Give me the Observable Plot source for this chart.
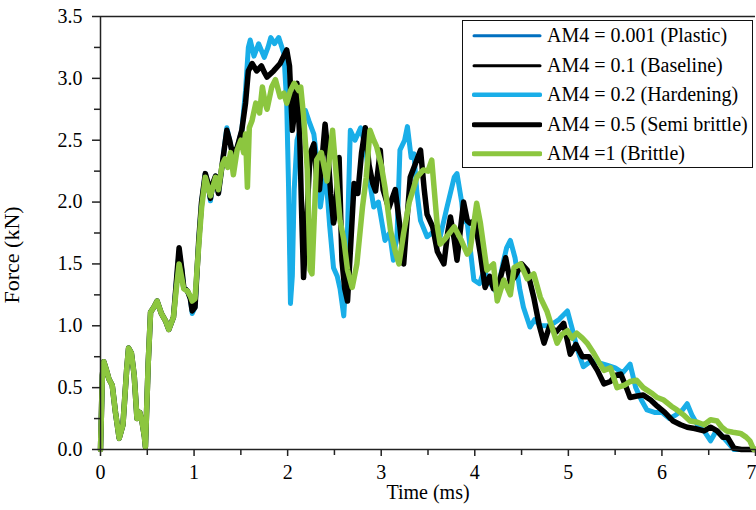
<!DOCTYPE html>
<html>
<head>
<meta charset="utf-8">
<script src="https://cdn.jsdelivr.net/npm/d3@7"></script>
<script src="https://cdn.jsdelivr.net/npm/@observablehq/plot@0.6"></script>
<style>
  html, body { margin: 0; padding: 0; background: #fff; overflow: hidden; }
  #wrap { position: relative; width: 756px; height: 510px; }
  #legend {
    position: absolute; left: 462px; top: 20px; width: 291px; height: 148px;
    box-sizing: border-box; border: 1.5px solid #111; background: #fff;
    font-family: "Liberation Serif", "Times New Roman", serif; font-size: 20px; color: #000;
  }
  .row { position: relative; height: 29.5px; display: flex; align-items: center; }
  .row svg { position: absolute; left: 9px; top: 0; }
  .row span { position: absolute; left: 84px; white-space: nowrap; }
</style>
</head>
<body>
<div id="wrap"></div>
<script>
// ---- tick values ----
const xTicks = [0, 1, 2, 3, 4, 5, 6, 7];
const xMinorTicks = [0.5, 1.5, 2.5, 3.5, 4.5, 5.5, 6.5];
const yTicks = [0, 0.5, 1.0, 1.5, 2.0, 2.5, 3.0, 3.5];
const yMinorTicks = [0.25, 0.75, 1.25, 1.75, 2.25, 2.75, 3.25];

// ---- series: [time (ms), force (kN)] ----
const seriesNames = ["AM4 = 0.001 (Plastic)", "AM4 = 0.1 (Baseline)", "AM4 = 0.2 (Hardening)", "AM4 = 0.5 (Semi brittle)", "AM4 =1 (Brittle)"];
const seriesColors = ["#0070c0", "#000000", "#19aee8", "#000000", "#8cc63f"];
const seriesWidths = [3.5, 3.5, 5, 5.5, 5.5];
const legendWidths = [3, 3, 4.5, 5, 5];

const plastic = [[0,0],[0.02,0.6],[0.035,0.71],[0.06,0.65],[0.09,0.57],[0.125,0.52],[0.16,0.3],[0.2,0.09],[0.24,0.2],[0.28,0.65],[0.3,0.82],[0.33,0.78],[0.36,0.6],[0.39,0.25],[0.42,0.3],[0.445,0.22],[0.47,0.1],[0.48,0.02],[0.51,0.7],[0.535,1.11],[0.57,1.15],[0.605,1.2],[0.65,1.1],[0.695,1.04],[0.73,0.97],[0.78,1.07],[0.81,1.35],[0.84,1.6],[0.87,1.45],[0.89,1.31],[0.93,1.28],[0.96,1.22],[0.98,1.1],[1.01,1.15],[1.05,1.69],[1.08,2.0],[1.12,2.23],[1.15,2.15],[1.175,2.01],[1.2,2.15],[1.23,2.21],[1.26,2.07],[1.3,2.3],[1.35,2.6],[1.38,2.5],[1.41,2.39],[1.46,2.44],[1.51,2.58],[1.55,2.9],[1.58,3.25],[1.6,3.31],[1.64,3.18],[1.69,3.28],[1.75,3.17],[1.79,3.25],[1.82,3.33],[1.86,3.28],[1.905,3.33],[1.96,3.2],[1.99,2.8],[2.01,2.12],[2.03,1.18],[2.05,1.4],[2.07,2.1],[2.1,2.5],[2.14,2.6],[2.19,2.74],[2.23,2.65],[2.28,2.55],[2.32,2.3],[2.35,1.96],[2.37,2.07],[2.41,2.2],[2.45,1.8],[2.49,1.47],[2.53,1.4],[2.56,1.3],[2.6,1.08],[2.63,1.5],[2.67,2.58],[2.72,2.5],[2.78,2.6],[2.83,2.45],[2.88,2.15],[2.92,1.96],[2.97,2.0],[3.04,1.69],[3.09,1.75],[3.13,1.53],[3.17,1.75],[3.2,2.42],[3.25,2.5],[3.28,2.61],[3.32,2.36],[3.35,2.39],[3.38,2.09],[3.42,1.85],[3.49,1.72],[3.56,1.76],[3.63,1.72],[3.7,1.95],[3.78,2.2],[3.81,2.23],[3.86,2.0],[3.88,1.85],[3.92,1.83],[3.99,1.37],[4.05,1.34],[4.1,1.45],[4.16,1.35],[4.24,1.26],[4.3,1.5],[4.34,1.63],[4.38,1.69],[4.43,1.55],[4.48,1.3],[4.52,1.15],[4.59,0.99],[4.64,1.05],[4.7,1.0],[4.8,1.0],[4.9,1.05],[4.99,1.12],[5.05,0.95],[5.1,0.8],[5.16,0.67],[5.25,0.72],[5.33,0.7],[5.42,0.68],[5.5,0.66],[5.58,0.62],[5.66,0.69],[5.72,0.5],[5.78,0.4],[5.84,0.32],[5.92,0.3],[6.0,0.3],[6.08,0.25],[6.15,0.28],[6.22,0.32],[6.27,0.37],[6.32,0.28],[6.38,0.2],[6.45,0.15],[6.52,0.07],[6.58,0.15],[6.63,0.12],[6.7,0.06],[6.77,0],[7,0]];

const baseline = [[0,0],[0.02,0.6],[0.035,0.71],[0.06,0.65],[0.09,0.57],[0.125,0.52],[0.16,0.3],[0.2,0.09],[0.24,0.2],[0.28,0.65],[0.3,0.82],[0.33,0.78],[0.36,0.6],[0.39,0.25],[0.42,0.3],[0.445,0.22],[0.47,0.1],[0.48,0.02],[0.51,0.7],[0.535,1.11],[0.57,1.15],[0.605,1.2],[0.65,1.1],[0.695,1.04],[0.73,0.97],[0.78,1.07],[0.81,1.35],[0.84,1.63],[0.87,1.45],[0.89,1.31],[0.93,1.28],[0.96,1.22],[0.98,1.12],[1.01,1.15],[1.05,1.69],[1.08,2.0],[1.12,2.23],[1.15,2.15],[1.175,2.03],[1.2,2.15],[1.23,2.21],[1.26,2.07],[1.3,2.3],[1.35,2.58],[1.38,2.5],[1.41,2.39],[1.46,2.44],[1.51,2.58],[1.55,2.8],[1.58,3.06],[1.62,3.12],[1.67,3.06],[1.72,3.1],[1.75,3.05],[1.78,3.01],[1.85,3.06],[1.92,3.12],[1.99,3.23],[2.02,3.1],[2.05,2.58],[2.07,2.7],[2.1,2.96],[2.13,2.5],[2.15,1.9],[2.17,1.39],[2.2,1.8],[2.24,2.39],[2.28,2.47],[2.31,2.2],[2.34,2.1],[2.4,2.63],[2.43,2.4],[2.46,2.07],[2.49,1.83],[2.51,1.9],[2.55,2.36],[2.58,1.53],[2.61,1.3],[2.64,1.2],[2.67,1.6],[2.71,2.15],[2.75,2.07],[2.79,2.4],[2.83,2.6],[2.87,2.3],[2.91,2.15],[2.94,2.09],[2.99,2.42],[3.02,2.1],[3.08,1.95],[3.15,2.1],[3.2,1.8],[3.24,1.5],[3.28,1.9],[3.31,2.2],[3.36,2.3],[3.42,2.42],[3.46,2.1],[3.49,1.9],[3.55,1.8],[3.6,1.6],[3.67,1.5],[3.71,1.75],[3.74,1.88],[3.78,1.7],[3.81,1.53],[3.85,1.8],[3.88,2.0],[3.92,1.85],[3.95,1.83],[4.0,1.85],[4.06,1.58],[4.11,1.31],[4.16,1.4],[4.2,1.3],[4.26,1.35],[4.33,1.55],[4.38,1.35],[4.43,1.4],[4.5,1.5],[4.56,1.45],[4.63,1.23],[4.69,1.0],[4.74,0.86],[4.8,1.0],[4.87,0.95],[4.95,1.02],[5.02,0.77],[5.08,0.85],[5.15,0.75],[5.22,0.75],[5.31,0.64],[5.38,0.53],[5.45,0.55],[5.51,0.6],[5.56,0.61],[5.62,0.5],[5.66,0.42],[5.72,0.43],[5.8,0.44],[5.88,0.4],[5.95,0.35],[6.03,0.3],[6.12,0.23],[6.2,0.2],[6.27,0.18],[6.35,0.17],[6.45,0.15],[6.52,0.18],[6.59,0.15],[6.65,0.1],[6.7,0.1],[6.77,0.01],[6.85,0],[7,0]];

const hardening = [[0,0],[0.02,0.6],[0.035,0.71],[0.06,0.65],[0.09,0.57],[0.125,0.52],[0.16,0.3],[0.2,0.09],[0.24,0.2],[0.28,0.65],[0.3,0.82],[0.33,0.78],[0.36,0.6],[0.39,0.25],[0.42,0.3],[0.445,0.22],[0.47,0.1],[0.48,0.02],[0.51,0.7],[0.535,1.11],[0.57,1.15],[0.605,1.2],[0.65,1.1],[0.695,1.04],[0.73,0.97],[0.78,1.07],[0.81,1.35],[0.84,1.6],[0.87,1.45],[0.89,1.31],[0.93,1.28],[0.96,1.22],[0.98,1.1],[1.01,1.15],[1.05,1.69],[1.08,2.0],[1.12,2.23],[1.15,2.15],[1.175,2.01],[1.2,2.15],[1.23,2.21],[1.26,2.07],[1.3,2.3],[1.35,2.6],[1.38,2.5],[1.41,2.39],[1.46,2.44],[1.51,2.58],[1.55,2.9],[1.58,3.25],[1.6,3.31],[1.64,3.18],[1.69,3.28],[1.75,3.17],[1.79,3.25],[1.82,3.33],[1.86,3.28],[1.905,3.33],[1.96,3.2],[1.99,2.8],[2.01,2.12],[2.03,1.18],[2.05,1.4],[2.07,2.1],[2.1,2.5],[2.14,2.6],[2.19,2.74],[2.23,2.65],[2.28,2.55],[2.32,2.3],[2.35,1.96],[2.37,2.07],[2.41,2.2],[2.45,1.8],[2.49,1.47],[2.53,1.4],[2.56,1.3],[2.6,1.08],[2.63,1.5],[2.67,2.58],[2.72,2.5],[2.78,2.6],[2.83,2.45],[2.88,2.15],[2.92,1.96],[2.97,2.0],[3.04,1.69],[3.09,1.75],[3.13,1.53],[3.17,1.75],[3.2,2.42],[3.25,2.5],[3.28,2.61],[3.32,2.36],[3.35,2.39],[3.38,2.09],[3.42,1.85],[3.49,1.72],[3.56,1.76],[3.63,1.72],[3.7,1.95],[3.78,2.2],[3.81,2.23],[3.86,2.0],[3.88,1.85],[3.92,1.83],[3.99,1.37],[4.05,1.34],[4.1,1.45],[4.16,1.35],[4.24,1.26],[4.3,1.5],[4.34,1.63],[4.38,1.69],[4.43,1.55],[4.48,1.3],[4.52,1.15],[4.59,0.99],[4.64,1.05],[4.7,1.0],[4.8,1.0],[4.9,1.05],[4.99,1.12],[5.05,0.95],[5.1,0.8],[5.16,0.67],[5.25,0.72],[5.33,0.7],[5.42,0.68],[5.5,0.66],[5.58,0.62],[5.66,0.69],[5.72,0.5],[5.78,0.4],[5.84,0.32],[5.92,0.3],[6.0,0.3],[6.08,0.25],[6.15,0.28],[6.22,0.32],[6.27,0.37],[6.32,0.28],[6.38,0.2],[6.45,0.15],[6.52,0.07],[6.58,0.15],[6.63,0.12],[6.7,0.06],[6.77,0],[7,0]];

const semiBrittle = [[0,0],[0.02,0.6],[0.035,0.71],[0.06,0.65],[0.09,0.57],[0.125,0.52],[0.16,0.3],[0.2,0.09],[0.24,0.2],[0.28,0.65],[0.3,0.82],[0.33,0.78],[0.36,0.6],[0.39,0.25],[0.42,0.3],[0.445,0.22],[0.47,0.1],[0.48,0.02],[0.51,0.7],[0.535,1.11],[0.57,1.15],[0.605,1.2],[0.65,1.1],[0.695,1.04],[0.73,0.97],[0.78,1.07],[0.81,1.35],[0.84,1.63],[0.87,1.45],[0.89,1.31],[0.93,1.28],[0.96,1.22],[0.98,1.12],[1.01,1.15],[1.05,1.69],[1.08,2.0],[1.12,2.23],[1.15,2.15],[1.175,2.03],[1.2,2.15],[1.23,2.21],[1.26,2.07],[1.3,2.3],[1.35,2.58],[1.38,2.5],[1.41,2.39],[1.46,2.44],[1.51,2.58],[1.55,2.8],[1.58,3.06],[1.62,3.12],[1.67,3.06],[1.72,3.1],[1.75,3.05],[1.78,3.01],[1.85,3.06],[1.92,3.12],[1.99,3.23],[2.02,3.1],[2.05,2.58],[2.07,2.7],[2.1,2.96],[2.13,2.5],[2.15,1.9],[2.17,1.39],[2.2,1.8],[2.24,2.39],[2.28,2.47],[2.31,2.2],[2.34,2.1],[2.4,2.63],[2.43,2.4],[2.46,2.07],[2.49,1.83],[2.51,1.9],[2.55,2.36],[2.58,1.53],[2.61,1.3],[2.64,1.2],[2.67,1.6],[2.71,2.15],[2.75,2.07],[2.79,2.4],[2.83,2.6],[2.87,2.3],[2.91,2.15],[2.94,2.09],[2.99,2.42],[3.02,2.1],[3.08,1.95],[3.15,2.1],[3.2,1.8],[3.24,1.5],[3.28,1.9],[3.31,2.2],[3.36,2.3],[3.42,2.42],[3.46,2.1],[3.49,1.9],[3.55,1.8],[3.6,1.6],[3.67,1.5],[3.71,1.75],[3.74,1.88],[3.78,1.7],[3.81,1.53],[3.85,1.8],[3.88,2.0],[3.92,1.85],[3.95,1.83],[4.0,1.85],[4.06,1.58],[4.11,1.31],[4.16,1.4],[4.2,1.3],[4.26,1.35],[4.33,1.55],[4.38,1.35],[4.43,1.4],[4.5,1.5],[4.56,1.45],[4.63,1.23],[4.69,1.0],[4.74,0.86],[4.8,1.0],[4.87,0.95],[4.95,1.02],[5.02,0.77],[5.08,0.85],[5.15,0.75],[5.22,0.75],[5.31,0.64],[5.38,0.53],[5.45,0.55],[5.51,0.6],[5.56,0.61],[5.62,0.5],[5.66,0.42],[5.72,0.43],[5.8,0.44],[5.88,0.4],[5.95,0.35],[6.03,0.3],[6.12,0.23],[6.2,0.2],[6.27,0.18],[6.35,0.17],[6.45,0.15],[6.52,0.18],[6.59,0.15],[6.65,0.1],[6.7,0.1],[6.77,0.01],[6.85,0],[7,0]];

const brittle = [[0,0],[0.02,0.6],[0.035,0.71],[0.06,0.65],[0.09,0.57],[0.125,0.52],[0.16,0.3],[0.2,0.09],[0.24,0.2],[0.28,0.65],[0.3,0.82],[0.33,0.78],[0.36,0.6],[0.39,0.25],[0.42,0.3],[0.445,0.22],[0.47,0.1],[0.48,0.02],[0.51,0.7],[0.535,1.11],[0.57,1.15],[0.605,1.2],[0.65,1.1],[0.695,1.04],[0.73,0.97],[0.78,1.07],[0.81,1.3],[0.84,1.5],[0.87,1.38],[0.89,1.3],[0.93,1.28],[0.96,1.24],[0.98,1.2],[1.01,1.22],[1.05,1.65],[1.08,1.95],[1.12,2.2],[1.175,2.05],[1.23,2.2],[1.26,2.1],[1.3,2.3],[1.33,2.35],[1.36,2.28],[1.39,2.4],[1.42,2.22],[1.46,2.42],[1.5,2.5],[1.53,2.4],[1.55,2.55],[1.57,2.12],[1.59,2.6],[1.62,2.66],[1.66,2.8],[1.7,2.72],[1.73,2.93],[1.76,2.8],[1.78,2.75],[1.83,2.93],[1.87,2.99],[1.92,2.85],[1.96,2.88],[1.99,2.8],[2.03,2.9],[2.07,2.96],[2.12,2.9],[2.14,2.93],[2.17,2.7],[2.21,2.26],[2.24,1.45],[2.26,1.42],[2.31,2.34],[2.36,2.4],[2.42,2.17],[2.48,2.58],[2.53,2.12],[2.56,1.85],[2.6,1.7],[2.64,1.45],[2.69,1.31],[2.74,1.5],[2.8,1.96],[2.84,2.2],[2.88,2.58],[2.92,2.5],[2.95,2.45],[3.0,2.3],[3.04,2.12],[3.1,1.77],[3.15,1.6],[3.19,1.5],[3.24,1.75],[3.3,2.0],[3.38,2.2],[3.45,2.26],[3.5,2.25],[3.54,2.34],[3.6,1.8],[3.63,1.66],[3.68,1.7],[3.73,1.75],[3.78,1.8],[3.85,1.7],[3.92,1.58],[3.95,1.61],[4.02,1.99],[4.06,1.83],[4.13,1.45],[4.2,1.5],[4.24,1.2],[4.31,1.37],[4.38,1.25],[4.42,1.47],[4.49,1.5],[4.56,1.38],[4.63,1.42],[4.7,1.23],[4.77,1.12],[4.82,1.0],[4.88,0.86],[4.93,0.93],[4.99,0.96],[5.04,0.9],[5.09,0.94],[5.15,0.9],[5.2,0.86],[5.27,0.78],[5.33,0.7],[5.38,0.64],[5.45,0.66],[5.52,0.5],[5.6,0.52],[5.66,0.55],[5.73,0.56],[5.8,0.5],[5.84,0.48],[5.9,0.45],[5.95,0.42],[6.02,0.4],[6.1,0.35],[6.16,0.32],[6.23,0.28],[6.3,0.23],[6.38,0.22],[6.45,0.2],[6.52,0.24],[6.59,0.23],[6.64,0.18],[6.69,0.15],[6.76,0.14],[6.84,0.13],[6.9,0.1],[6.94,0.07],[6.98,0],[7,0]];

const seriesData = [plastic, baseline, hardening, semiBrittle, brittle];
const drawOrder = [0, 2, 1, 3, 4];

const font = '"Liberation Serif", "Times New Roman", serif';

const lineMarks = drawOrder.map(i =>
  Plot.line(seriesData[i], {
    x: d => d[0], y: d => d[1],
    stroke: seriesColors[i], strokeWidth: seriesWidths[i],
    strokeLinejoin: "round", strokeLinecap: "round"
  })
);

const innerXTicks = xTicks.slice(0, xTicks.length - 1);
const lastXTick = xTicks.slice(xTicks.length - 1);

const chart = Plot.plot({
  width: 756,
  height: 510,
  marginLeft: 100,
  marginRight: 1,
  marginTop: 16,
  marginBottom: 61,
  style: { fontFamily: font, fontSize: "20px", color: "#000", background: "#fff", overflow: "visible" },
  x: { domain: [0, 7] },
  y: { domain: [0, 3.5] },
  marks: [
    ...lineMarks,
    Plot.ruleX([0], { stroke: "#222", strokeWidth: 1.5 }),
    Plot.ruleY([0], { stroke: "#222", strokeWidth: 1.5 }),
    Plot.ruleY([3.5], { stroke: "#222", strokeWidth: 1.5 }),
    Plot.axisX(innerXTicks, { tickSize: 7, tickPadding: 8, tickFormat: d => String(d), strokeWidth: 1.5, stroke: "#222", fontSize: 20, label: null }),
    Plot.axisX(lastXTick, { tickSize: 7, tickFormat: () => "", strokeWidth: 1.5, stroke: "#222", label: null }),
    Plot.text(lastXTick, { x: d => d, frameAnchor: "bottom", lineAnchor: "top", textAnchor: "end", dx: 1, dy: 15, text: d => String(d), fontSize: 20, fill: "#000" }),
    Plot.axisX(xMinorTicks, { tickSize: 6, tickFormat: () => "", strokeWidth: 1.5, stroke: "#222", label: null }),
    Plot.axisY(yTicks, { tickSize: 8, tickPadding: 10, tickFormat: ".1f", strokeWidth: 1.5, stroke: "#222", fontSize: 20, label: null }),
    Plot.axisY(yMinorTicks, { tickSize: 6, tickFormat: () => "", strokeWidth: 1.5, stroke: "#222", label: null }),
    Plot.text(["Time (ms)"], { frameAnchor: "bottom", dy: 49, fontSize: 20, fill: "#000" }),
    Plot.text(["Force (kN)"], { frameAnchor: "bottom-left", textAnchor: "start", rotate: -90, dx: -82, dy: -146, fontSize: 22, fill: "#000" })
  ]
});

const wrap = document.getElementById("wrap");
wrap.appendChild(chart);

// legend
const legend = document.createElement("div");
legend.id = "legend";
[0, 1, 2, 3, 4].forEach(i => {
  const row = document.createElement("div");
  row.className = "row";
  row.innerHTML = `<svg width="70" height="29.5"><line x1="2" x2="68" y1="14.75" y2="14.75" stroke="${seriesColors[i]}" stroke-width="${legendWidths[i]}" stroke-linecap="round"/></svg><span>${seriesNames[i]}</span>`;
  legend.appendChild(row);
});
wrap.appendChild(legend);
</script>
</body>
</html>
